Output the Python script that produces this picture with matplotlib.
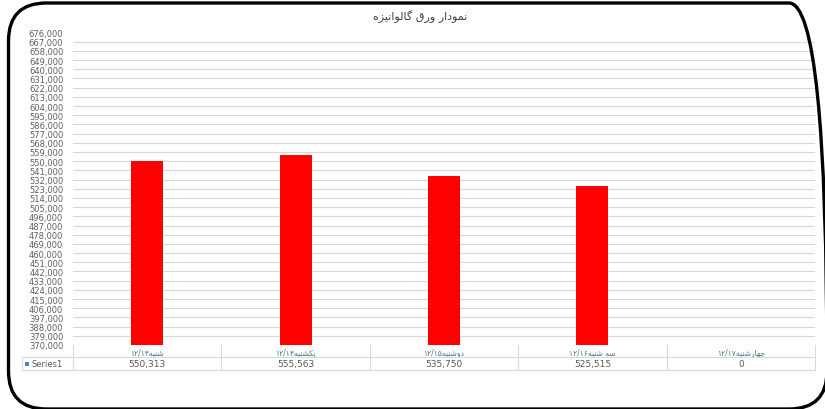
import matplotlib.pyplot as plt
import numpy as np
from matplotlib.patches import FancyBboxPatch, Rectangle
from matplotlib.lines import Line2D
from matplotlib.transforms import blended_transform_factory

plt.rcParams['font.family'] = ['DejaVu Sans']

# data
title = 'نمودار ورق گالوانیزه'
days = ['شنبه', 'یکشنبه', 'دوشنبه', 'سه شنبه', 'چهارشنبه']
dates = ['۱۲/۱۳', '۱۲/۱۴', '۱۲/۱۵', '۱۲/۱۶', '۱۲/۱۷']
values = [550313, 555563, 535750, 525515, 0]
series_name = 'Series1'
y_min, y_max, y_step = 370000, 676000, 9000

# simple arabic/persian shaping (matplotlib has no bidi/shaping)
FORMS = {  # isolated, final, initial, medial
    'ا': ('\uFE8D', '\uFE8E', None, None),
    'ب': ('\uFE8F', '\uFE90', '\uFE91', '\uFE92'),
    'د': ('\uFEA9', '\uFEAA', None, None),
    'ر': ('\uFEAD', '\uFEAE', None, None),
    'ز': ('\uFEAF', '\uFEB0', None, None),
    'س': ('\uFEB1', '\uFEB2', '\uFEB3', '\uFEB4'),
    'ش': ('\uFEB5', '\uFEB6', '\uFEB7', '\uFEB8'),
    'ق': ('\uFED5', '\uFED6', '\uFED7', '\uFED8'),
    'ل': ('\uFEDD', '\uFEDE', '\uFEDF', '\uFEE0'),
    'م': ('\uFEE1', '\uFEE2', '\uFEE3', '\uFEE4'),
    'ن': ('\uFEE5', '\uFEE6', '\uFEE7', '\uFEE8'),
    'ه': ('\uFEE9', '\uFEEA', '\uFEEB', '\uFEEC'),
    'و': ('\uFEED', '\uFEEE', None, None),
    'چ': ('\uFB7A', '\uFB7B', '\uFB7C', '\uFB7D'),
    'ک': ('\uFB8E', '\uFB8F', '\uFB90', '\uFB91'),
    'گ': ('\uFB92', '\uFB93', '\uFB94', '\uFB95'),
    'ی': ('\uFBFC', '\uFBFD', '\uFBFE', '\uFBFF'),
}


def shape_word(s):
    out = []
    for i, c in enumerate(s):
        if c not in FORMS:
            out.append(c)
            continue
        prev = s[i - 1] if i > 0 else ''
        nxt = s[i + 1] if i + 1 < len(s) else ''
        jp = prev in FORMS and FORMS[prev][2] is not None
        jn = nxt in FORMS and FORMS[c][2] is not None
        iso, fin, ini, med = FORMS[c]
        if jp and jn:
            out.append(med)
        elif jp:
            out.append(fin)
        elif jn:
            out.append(ini)
        else:
            out.append(iso)
    return ''.join(out)[::-1]


def rtl(word, num=''):
    return num + shape_word(word)


fig = plt.figure(figsize=(8.25, 4.10), dpi=100)
W, H = 825, 410

# plot area in pixels
left, right, top, bottom = 73, 815, 33.5, 346
ax = fig.add_axes([left / W, 1 - bottom / H, (right - left) / W, (bottom - top) / H])

x = np.arange(len(values))
ax.bar(x, values, width=0.216, color='#ff0000', zorder=3)
ax.set_xlim(-0.5, len(values) - 0.5)
ax.set_ylim(y_min, y_max)
yt = np.arange(y_min, y_max + 1, y_step)
ax.set_yticks(yt)
ax.set_yticklabels([f'{v:,}' for v in yt], fontsize=6, color='#606060')
ax.set_xticks([])
ax.tick_params(axis='y', length=0, pad=7)
ax.grid(axis='y', color='#d9d9d9', linewidth=0.8, zorder=0)
for s in ax.spines.values():
    s.set_visible(False)

fig.text(420 / W, 1 - 17 / H, rtl(title), ha='center', va='center',
         fontsize=8, color='#404040')

# data table below the axis
tr = blended_transform_factory(ax.transData, fig.transFigure)
ff = fig.transFigure
def fy(p):
    return 1 - p / H
grid_c = '#d9d9d9'
row1, row2, row3 = 346, 358, 371
for xe in np.arange(-0.5, len(values) + 0.5, 1.0):
    fig.add_artist(Line2D([xe, xe], [fy(row1), fy(row3)], transform=tr, color=grid_c, lw=0.8))
for yy in (row2, row3):
    fig.add_artist(Line2D([22 / W, right / W], [fy(yy), fy(yy)], transform=ff, color=grid_c, lw=0.8))
fig.add_artist(Line2D([22 / W, 22 / W], [fy(row2), fy(row3)], transform=ff, color=grid_c, lw=0.8))

for i in range(len(values)):
    ax.text(x[i], fy(352.5), rtl(days[i], dates[i]), transform=tr, ha='center', va='center',
            fontsize=5.5, color='#4a7a8c')
    ax.text(x[i], fy(364.5), f'{values[i]:,}', transform=tr, ha='center', va='center',
            fontsize=6.5, color='#595959')

fig.add_artist(Rectangle((25 / W, fy(366.5)), 4 / W, 4 / H, transform=ff,
                         facecolor='#4f81bd', edgecolor='none'))
fig.text(31 / W, fy(364.5), series_name, ha='left', va='center', fontsize=6, color='#595959')

# rounded screenshot frame (partly cut off at right and bottom)
frame = FancyBboxPatch((0.085, 0.0), 8.185, 4.06,
                       boxstyle='round,pad=0,rounding_size=0.38',
                       transform=fig.dpi_scale_trans, facecolor='none',
                       edgecolor='black', linewidth=2.4)
fig.add_artist(frame)

fig.savefig('out.png', dpi=100)
